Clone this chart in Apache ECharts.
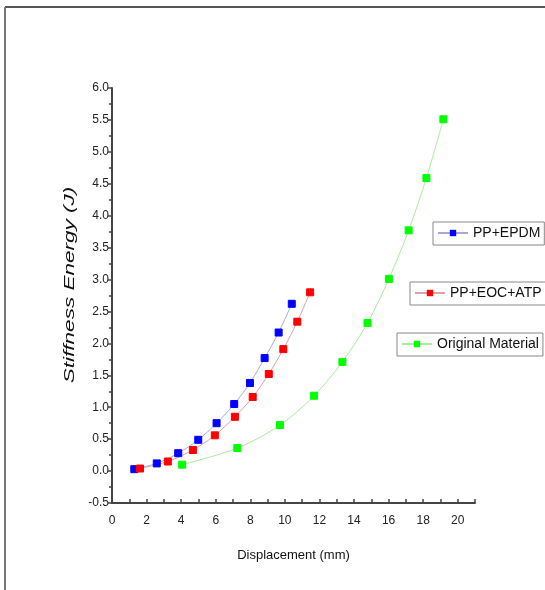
<!DOCTYPE html>
<html>
<head>
<meta charset="utf-8">
<script src="https://cdn.jsdelivr.net/npm/echarts@6/dist/echarts.min.js"></script>
<style>
  html, body { margin: 0; padding: 0; background: #fff; }
  #chart { width: 545px; height: 590px; }
</style>
</head>
<body>
<div id="chart"></div>
<script>
// Displacement (mm) and stiffness energy (J) for each material
const epdmX = [1.29, 2.59, 3.83, 4.99, 6.05, 7.07, 7.98, 8.83, 9.64, 10.40];
const epdmY = [0.03, 0.12, 0.28, 0.49, 0.75, 1.05, 1.38, 1.77, 2.17, 2.62];

const eocX = [1.62, 3.23, 4.68, 5.95, 7.11, 8.14, 9.07, 9.91, 10.72, 11.46];
const eocY = [0.04, 0.15, 0.33, 0.56, 0.85, 1.16, 1.52, 1.91, 2.34, 2.80];

const origX = [4.06, 7.25, 9.72, 11.69, 13.33, 14.78, 16.02, 17.16, 18.19, 19.17];
const origY = [0.10, 0.36, 0.72, 1.18, 1.71, 2.32, 3.01, 3.77, 4.59, 5.51];

const seriesNames = ['PP+EPDM', 'PP+EOC+ATP', 'Original Material'];

const xLabelValues = [0, 2, 4, 6, 8, 10, 12, 14, 16, 18, 20];

const pairs = (xs, ys) => xs.map((x, i) => [x, ys[i]]);

const sans = '"Liberation Sans", Arial, sans-serif';
const axisColor = '#444';

function makeSeries(name, data, line, fill) {
  return {
    name: name,
    type: 'line',
    data: data,
    smooth: 0.3,
    symbol: 'rect',
    symbolSize: 7,
    lineStyle: { color: line, width: 1 },
    itemStyle: { color: fill, borderColor: fill },
    emphasis: { disabled: true }
  };
}

function makeLegend(name, left, top) {
  return {
    data: [name],
    left: left,
    top: top,
    orient: 'horizontal',
    borderColor: '#888',
    borderWidth: 1,
    padding: [4, 4, 5, 4],
    itemWidth: 30,
    itemHeight: 8,
    itemGap: 3,
    selectedMode: false,
    textStyle: { fontFamily: sans, fontSize: 14, color: '#111' }
  };
}

const chart = echarts.init(document.getElementById('chart'), null, { renderer: 'canvas' });

chart.setOption({
  backgroundColor: '#fff',
  animation: false,
  grid: { left: 112, top: 88, right: 70, bottom: 87, containLabel: false },
  xAxis: {
    type: 'value',
    min: 0,
    max: 21,
    interval: 1,
    name: 'Displacement (mm)',
    nameLocation: 'middle',
    nameGap: 46,
    nameTextStyle: { fontFamily: sans, fontSize: 13, color: '#111' },
    axisLine: { show: true, onZero: false, lineStyle: { color: axisColor, width: 2 } },
    axisTick: { show: true, inside: true, length: 4, lineStyle: { color: axisColor, width: 1.5 } },
    axisLabel: {
      fontFamily: sans,
      fontSize: 12,
      color: '#222',
      margin: 12,
      formatter: v => (xLabelValues.indexOf(v) >= 0 ? String(v) : '')
    },
    splitLine: { show: false }
  },
  yAxis: {
    type: 'value',
    min: -0.5,
    max: 6.0,
    interval: 0.5,
    axisLine: { show: true, onZero: false, lineStyle: { color: axisColor, width: 2 } },
    axisTick: { show: true, inside: false, length: 4, lineStyle: { color: axisColor, width: 1.5 } },
    minorTick: { show: true, splitNumber: 2, length: 3, lineStyle: { color: axisColor, width: 1.5 } },
    axisLabel: {
      fontFamily: sans,
      fontSize: 12,
      color: '#222',
      margin: 3,
      formatter: v => v.toFixed(1)
    },
    splitLine: { show: false }
  },
  legend: [
    makeLegend(seriesNames[0], 433, 222),
    makeLegend(seriesNames[1], 410, 282),
    makeLegend(seriesNames[2], 397, 333)
  ],
  graphic: [
    { type: 'line', shape: { x1: 5, y1: 7, x2: 545, y2: 7 }, style: { stroke: '#555', lineWidth: 2 } },
    { type: 'line', shape: { x1: 5, y1: 7, x2: 5, y2: 590 }, style: { stroke: '#777', lineWidth: 2 } },
    // wide italic y-axis title, stretched along its baseline
    {
      type: 'text',
      x: 70,
      y: 285,
      rotation: Math.PI / 2,
      scaleX: 1.5,
      style: {
        text: 'Stiffness Energy (J)',
        fontFamily: sans,
        fontStyle: 'italic',
        fontSize: 15,
        fill: '#111',
        align: 'center',
        verticalAlign: 'middle'
      }
    }
  ],
  series: [
    makeSeries(seriesNames[0], pairs(epdmX, epdmY), '#a9a9d8', '#0000ff'),
    makeSeries(seriesNames[1], pairs(eocX, eocY), '#d8a4a8', '#ff0000'),
    makeSeries(seriesNames[2], pairs(origX, origY), '#a8ec9c', '#00ff00')
  ]
});
</script>
</body>
</html>
